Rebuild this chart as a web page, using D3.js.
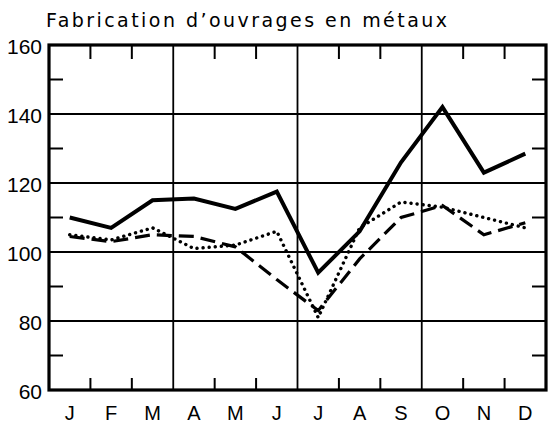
<!DOCTYPE html>
<html>
<head>
<meta charset="utf-8">
<script src="https://cdn.jsdelivr.net/npm/d3@7"></script>
<style>
  body { margin: 0; background: #fff; }
  svg { display: block; }
  text { fill: #000; }
</style>
</head>
<body>
<div id="chart"></div>
<script>
// months and index values
var months = ["J", "F", "M", "A", "M", "J", "J", "A", "S", "O", "N", "D"];
var solid  = [110, 107, 115, 115.5, 112.5, 117.5, 94, 106, 126, 142, 123, 128.5];
var dashed = [104.5, 103, 105, 104.5, 101.5, 92, 83, 98, 110, 113.5, 105, 108.5];
var dotted = [105, 103.5, 107, 101, 102, 106, 81, 107, 114.5, 113, 110, 107];
var yTicks = [60, 80, 100, 120, 140, 160];
var yMinor = [70, 90, 110, 130, 150];

var W = 553, H = 425;
var pLeft = 49, pRight = 546, pTop = 45, pBottom = 390;

var svg = d3.select("#chart").append("svg")
    .attr("width", W)
    .attr("height", H);

var x = d3.scaleBand().domain(d3.range(12)).range([pLeft, pRight]).padding(0);
var y = d3.scaleLinear().domain([60, 160]).range([pBottom, pTop]);
var cx = function(i) { return x(i) + x.bandwidth() / 2; };

// title
svg.append("text")
    .attr("x", 46)
    .attr("y", 27)
    .attr("font-family", "DejaVu Sans")
    .attr("font-size", 19)
    .attr("textLength", 401)
    .attr("lengthAdjust", "spacing")
    .text("Fabrication d\u2019ouvrages en m\u00e9taux");

var g = svg.append("g");

// horizontal grid
g.selectAll(".hgrid")
    .data(yTicks.slice(1, -1))
  .enter().append("line")
    .attr("x1", pLeft).attr("x2", pRight)
    .attr("y1", function(d) { return y(d); })
    .attr("y2", function(d) { return y(d); })
    .attr("stroke", "#000").attr("stroke-width", 1.8);

// vertical grid after each quarter
g.selectAll(".vgrid")
    .data([3, 6, 9])
  .enter().append("line")
    .attr("x1", function(d) { return x(d); })
    .attr("x2", function(d) { return x(d); })
    .attr("y1", pTop).attr("y2", pBottom)
    .attr("stroke", "#000").attr("stroke-width", 1.8);

// month boundary ticks top and bottom
var mt = d3.range(1, 12).filter(function(d) { return d % 3 != 0; });
g.selectAll(".ttick")
    .data(mt)
  .enter().append("line")
    .attr("x1", function(d) { return x(d); })
    .attr("x2", function(d) { return x(d); })
    .attr("y1", pTop).attr("y2", pTop + 14)
    .attr("stroke", "#000").attr("stroke-width", 2);
g.selectAll(".btick")
    .data(mt)
  .enter().append("line")
    .attr("x1", function(d) { return x(d); })
    .attr("x2", function(d) { return x(d); })
    .attr("y1", pBottom).attr("y2", pBottom - 12)
    .attr("stroke", "#000").attr("stroke-width", 2);

// minor value ticks left and right
g.selectAll(".ltick")
    .data(yMinor)
  .enter().append("line")
    .attr("x1", pLeft).attr("x2", pLeft + 14)
    .attr("y1", function(d) { return y(d); })
    .attr("y2", function(d) { return y(d); })
    .attr("stroke", "#000").attr("stroke-width", 2);
g.selectAll(".rtick")
    .data(yMinor)
  .enter().append("line")
    .attr("x1", pRight).attr("x2", pRight - 14)
    .attr("y1", function(d) { return y(d); })
    .attr("y2", function(d) { return y(d); })
    .attr("stroke", "#000").attr("stroke-width", 2);

// frame
g.append("rect")
    .attr("x", pLeft).attr("y", pTop)
    .attr("width", pRight - pLeft).attr("height", pBottom - pTop)
    .attr("fill", "none").attr("stroke", "#000").attr("stroke-width", 3.2);

// y labels
svg.selectAll(".ylab")
    .data(yTicks)
  .enter().append("text")
    .attr("x", 42)
    .attr("y", function(d) { return y(d) + 9; })
    .attr("text-anchor", "end")
    .attr("font-family", "Liberation Sans")
    .attr("font-size", 21)
    .text(function(d) { return d; });

// month labels
svg.selectAll(".xlab")
    .data(months)
  .enter().append("text")
    .attr("x", function(d, i) { return cx(i); })
    .attr("y", 420)
    .attr("text-anchor", "middle")
    .attr("font-family", "Liberation Sans")
    .attr("font-size", 20)
    .text(function(d) { return d; });

var line = d3.line()
    .x(function(d, i) { return cx(i); })
    .y(function(d) { return y(d); });

svg.append("path")
    .attr("d", line(dotted))
    .attr("fill", "none").attr("stroke", "#000")
    .attr("stroke-width", 3.4)
    .attr("stroke-linecap", "round")
    .attr("stroke-dasharray", "0.1 6");

svg.append("path")
    .attr("d", line(dashed))
    .attr("fill", "none").attr("stroke", "#000")
    .attr("stroke-width", 3.2)
    .attr("stroke-dasharray", "15 7");

svg.append("path")
    .attr("d", line(solid))
    .attr("fill", "none").attr("stroke", "#000")
    .attr("stroke-width", 4)
    .attr("stroke-linejoin", "miter");
</script>
</body>
</html>
